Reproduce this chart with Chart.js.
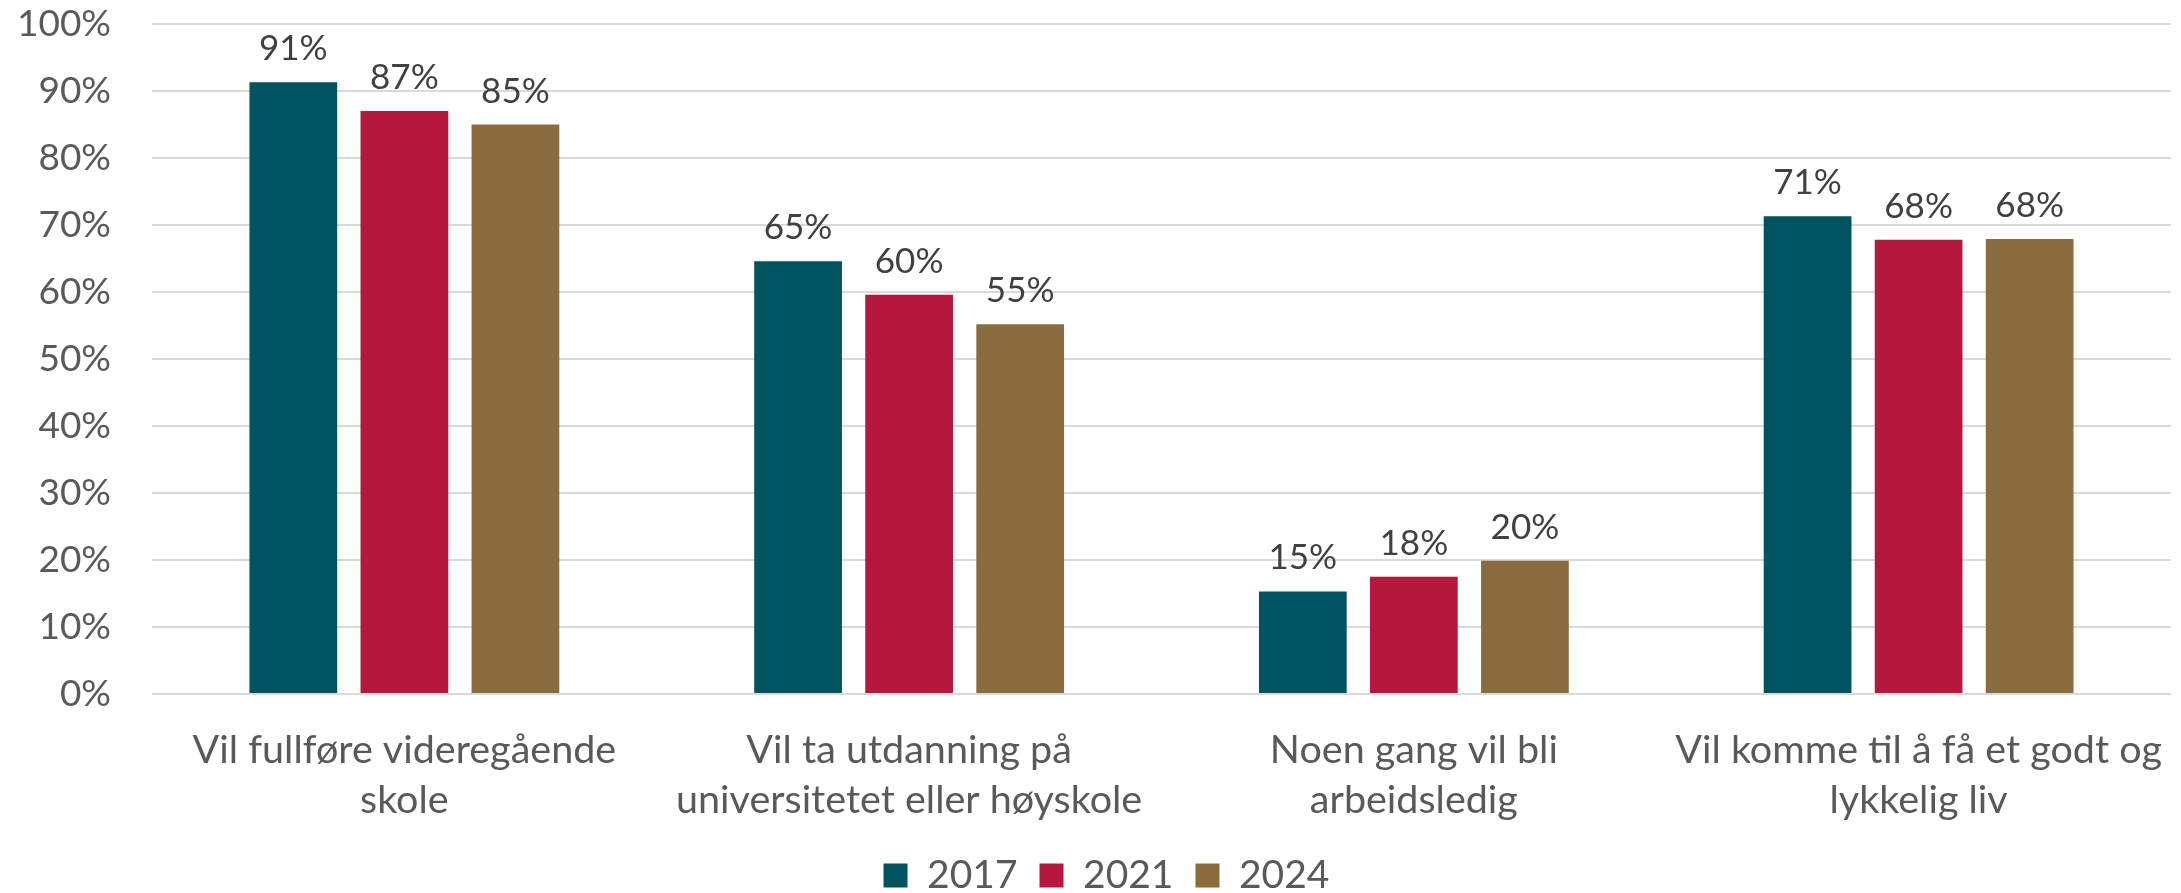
<!DOCTYPE html>
<html>
<head>
<meta charset="utf-8">
<title>Forventninger</title>
<script src="https://cdn.jsdelivr.net/npm/chart.js@4.4.1/dist/chart.umd.min.js"></script>
<style>
  html, body { margin: 0; padding: 0; background: #ffffff; }
  #wrap { width: 2181px; height: 893px; }
</style>
</head>
<body>
<div id="wrap"><canvas id="barChart"></canvas></div>
<script>
// Categories (x axis), each one split in two lines like the original
let categories = [
  ['Vil fullføre videregående', 'skole'],
  ['Vil ta utdanning på', 'universitetet eller høyskole'],
  ['Noen gang vil bli', 'arbeidsledig'],
  ['Vil komme til å få et godt og', 'lykkelig liv']
];

// Series values in percent
let years = ['2017', '2021', '2024'];
let values2017 = [91.3, 64.6, 15.3, 71.3];
let values2021 = [87.0, 59.6, 17.5, 67.8];
let values2024 = [85.0, 55.2, 19.9, 67.9];

// Tick labels on the y axis
let yTicks = [0, 10, 20, 30, 40, 50, 60, 70, 80, 90, 100];

let colors = ['#01535F', '#B5173D', '#8B6C3F'];
let fontFamily = 'Lato, "Liberation Sans", sans-serif';

// Small plugin to write the value above each bar
let valueLabels = {
  id: 'valueLabels',
  afterDatasetsDraw(chart) {
    let ctx = chart.ctx;
    ctx.save();
    ctx.font = '35px ' + fontFamily;
    ctx.fillStyle = '#404040';
    ctx.textAlign = 'center';
    ctx.textBaseline = 'alphabetic';
    chart.data.datasets.forEach((ds, i) => {
      let meta = chart.getDatasetMeta(i);
      meta.data.forEach((bar, j) => {
        ctx.fillText(Math.round(ds.data[j]) + '%', bar.x, bar.y - 22);
      });
    });
    ctx.restore();
  }
};

// Move the legend a little to the right, it sits right of the page centre in the original
let shiftLegend = {
  id: 'shiftLegend',
  afterLayout(chart) {
    chart.legend.left += 21;
    chart.legend.right += 21;
  }
};

let ctx = document.getElementById('barChart').getContext('2d');
let barChart = new Chart(ctx, {
  type: 'bar',
  data: {
    labels: categories,
    datasets: [
      { label: years[0], data: values2017, backgroundColor: colors[0] },
      { label: years[1], data: values2021, backgroundColor: colors[1] },
      { label: years[2], data: values2024, backgroundColor: colors[2] }
    ]
  },
  options: {
    responsive: true,
    maintainAspectRatio: false,
    animation: false,
    devicePixelRatio: 1,
    datasets: {
      bar: { categoryPercentage: 0.66, barPercentage: 0.79 }
    },
    layout: { padding: { top: 24, right: 10, left: 0, bottom: -12 } },
    scales: {
      x: {
        grid: { display: false, drawTicks: false },
        border: { display: false },
        ticks: {
          color: '#595959',
          padding: 31,
          maxRotation: 0,
          autoSkip: false,
          font: { family: fontFamily, size: 39.5, lineHeight: 1.27 }
        },
        // fixed height, and no extra side room for the long labels
        afterFit: (scale) => {
          scale.height = 140;
          scale.paddingLeft = 0;
          scale.paddingRight = 0;
        }
      },
      y: {
        min: 0,
        max: 100,
        afterBuildTicks: (axis) => { axis.ticks = yTicks.map(v => ({ value: v })); },
        grid: { color: '#D9D9D9', lineWidth: 2, drawTicks: false },
        border: { display: false },
        ticks: {
          color: '#595959',
          padding: 41,
          font: { family: fontFamily, size: 37 },
          callback: (v) => v + '%'
        },
        // fixed width, and the tick padding should not push the plot down
        afterFit: (scale) => {
          scale.width = 152;
          scale.paddingTop = 0;
          scale.paddingBottom = 0;
        }
      }
    },
    plugins: {
      tooltip: { enabled: false },
      legend: {
        position: 'bottom',
        labels: {
          color: '#595959',
          boxWidth: 24,
          boxHeight: 24,
          padding: 22,
          font: { family: fontFamily, size: 39 }
        }
      }
    }
  },
  plugins: [valueLabels, shiftLegend]
});
</script>
</body>
</html>
